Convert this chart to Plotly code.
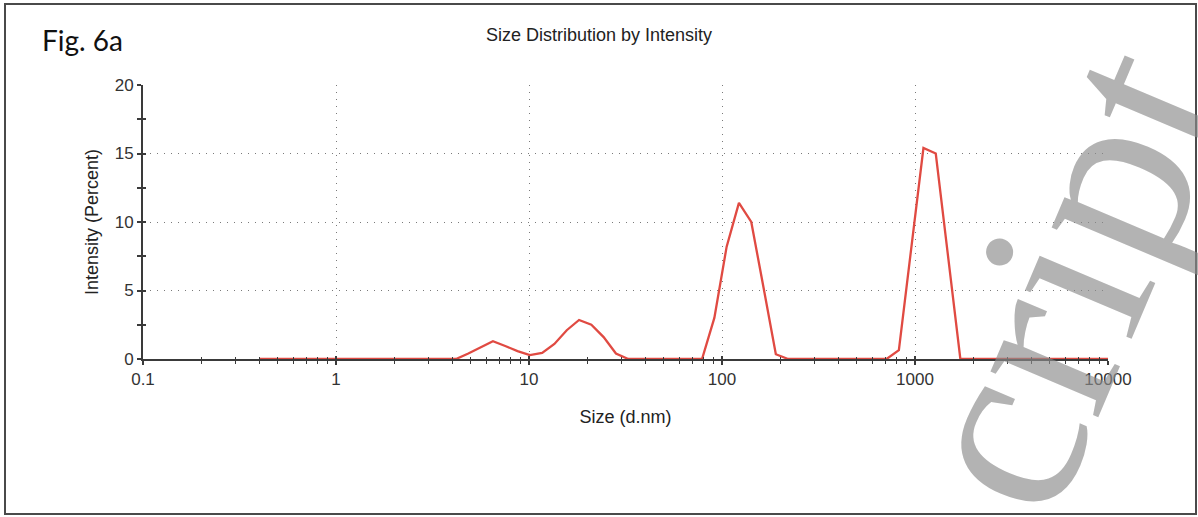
import plotly.graph_objects as go

# Zetasizer size classes (d.nm)
sizes = [0.4, 0.4632, 0.5365, 0.6213, 0.7195, 0.8332, 0.9649, 1.117, 1.294, 1.499,
         1.736, 2.010, 2.328, 2.696, 3.122, 3.615, 4.187, 4.849, 5.615, 6.503,
         7.531, 8.721, 10.10, 11.70, 13.54, 15.69, 18.17, 21.04, 24.36, 28.21,
         32.67, 37.84, 43.82, 50.75, 58.77, 68.06, 78.82, 91.28, 105.7, 122.4,
         141.8, 164.2, 190.1, 220.2, 255.0, 295.3, 342.0, 396.1, 458.7, 531.2,
         615.1, 712.4, 825.0, 955.4, 1106, 1281, 1484, 1718, 1990, 2305,
         2669, 3091, 3580, 4145, 4801, 5560, 6439, 7456, 8635, 10000]

intensity = [0, 0, 0, 0, 0, 0, 0, 0, 0, 0,
             0, 0, 0, 0, 0, 0, 0, 0.4, 0.85, 1.3,
             0.95, 0.58, 0.28, 0.45, 1.1, 2.1, 2.85, 2.5, 1.6, 0.4,
             0, 0, 0, 0, 0, 0, 0, 3.0, 8.2, 11.4,
             10.0, 5.2, 0.35, 0, 0, 0, 0, 0, 0, 0,
             0, 0, 0.65, 8.2, 15.4, 15.0, 7.5, 0, 0, 0,
             0, 0, 0, 0, 0, 0, 0, 0, 0, 0]

x_tickvals = [0.1, 1, 10, 100, 1000, 10000]
x_ticktext = ["0.1", "1", "10", "100", "1000", "10000"]
y_tickvals = [0, 5, 10, 15, 20]

title_text = "Size Distribution by Intensity"
x_title = "Size (d.nm)"
y_title = "Intensity (Percent)"
fig_label = "Fig. 6a"
watermark = "cript"

AX = "#3a3a3a"
GRID = "#7a7a7a"
FONT = "Liberation Sans, Arial, sans-serif"

fig = go.Figure()

# invisible helper trace to carry the inside-tick overlay axes
fig.add_trace(go.Scatter(x=sizes, y=intensity, xaxis="x2", yaxis="y2",
                         mode="lines", line=dict(width=0), opacity=0,
                         hoverinfo="skip", showlegend=False))

fig.add_trace(go.Scatter(x=sizes, y=intensity, mode="lines",
                         line=dict(color="#e04a42", width=2.3),
                         showlegend=False))

common_x = dict(type="log", range=[-1, 4])
fig.update_layout(
    width=1198, height=517,
    margin=dict(l=143, r=90, t=85, b=158, autoexpand=False),
    paper_bgcolor="white", plot_bgcolor="white",
    font=dict(family=FONT, color="#333333", size=17),
    title=dict(text=title_text, x=0.5, xref="container", xanchor="center",
               y=1 - 35 / 517, yref="container", yanchor="middle",
               font=dict(family=FONT, size=18, color="#222222")),
    xaxis=dict(**common_x, showline=True, linecolor=AX, linewidth=2,
               ticks="outside", ticklen=4, tickwidth=1.5, tickcolor=AX,
               tickvals=x_tickvals, ticktext=x_ticktext,
               tickfont=dict(size=17, color="#333333"),
               showgrid=True, gridcolor=GRID, gridwidth=1, griddash="1px,6px",
               zeroline=False, automargin=False,
               minor=dict(ticks="outside", ticklen=3, tickwidth=1.2,
                          tickcolor=AX, dtick="D1", showgrid=False),
               title=dict(text=x_title, standoff=22,
                          font=dict(size=18, color="#222222"))),
    yaxis=dict(range=[0, 20], showline=True, linecolor=AX, linewidth=2,
               ticks="outside", ticklen=4, tickwidth=1.5, tickcolor=AX,
               tickvals=y_tickvals, tickfont=dict(size=17, color="#333333"),
               showgrid=True, gridcolor=GRID, gridwidth=1, griddash="1px,6px",
               zeroline=False, automargin=False,
               minor=dict(ticks="outside", ticklen=4, tickwidth=1.5,
                          tickcolor=AX, dtick=2.5, showgrid=False),
               title=dict(text=y_title, standoff=11,
                          font=dict(size=18, color="#222222"))),
    xaxis2=dict(**common_x, overlaying="x", anchor="y", side="bottom",
                showline=False, showgrid=False, zeroline=False,
                showticklabels=False, ticks="inside", ticklen=3,
                tickwidth=1.5, tickcolor=AX, tickvals=x_tickvals,
                minor=dict(ticks="inside", ticklen=2, tickwidth=1.2,
                           tickcolor=AX, dtick="D1")),
    yaxis2=dict(range=[0, 20], overlaying="y", anchor="x", side="left",
                showline=False, showgrid=False, zeroline=False,
                showticklabels=False, ticks="inside", ticklen=3,
                tickwidth=1.5, tickcolor=AX, tickvals=y_tickvals,
                minor=dict(ticks="inside", ticklen=3, tickwidth=1.5,
                           tickcolor=AX, dtick=2.5)),
)

# outer figure frame
fig.add_shape(type="rect", xref="paper", yref="paper",
              x0=(5 - 143) / 965, x1=(1196 - 143) / 965,
              y0=(359 - 514) / 274, y1=(359 - 4) / 274,
              line=dict(color="#4a4a4a", width=2), layer="below")

fig.add_annotation(text=fig_label, xref="paper", yref="paper",
                   x=(40 - 143) / 965, y=(359 - 40) / 274,
                   xanchor="left", yanchor="middle", showarrow=False,
                   font=dict(family="Lato, Open Sans, sans-serif", size=28,
                             color="#111111"))

fig.add_annotation(text=watermark, xref="paper", yref="paper",
                   x=(1064 - 143) / 965, y=(359 - 278) / 274,
                   xanchor="center", yanchor="middle", showarrow=False,
                   textangle=-67,
                   font=dict(family="Liberation Serif, Times New Roman, serif",
                             size=255, color="rgba(140,140,140,0.66)"))

fig.write_html("out.html")
